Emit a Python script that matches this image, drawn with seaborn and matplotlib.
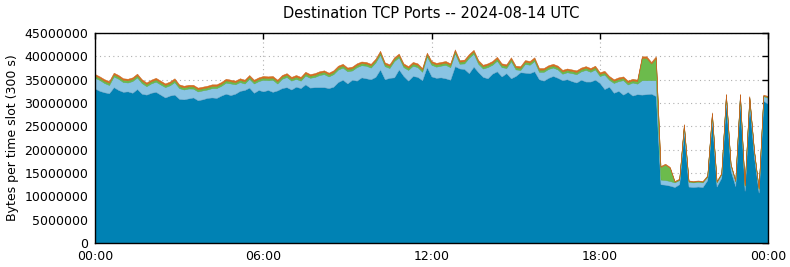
import numpy as np
import pandas as pd
import matplotlib
matplotlib.use("Agg")
import matplotlib.pyplot as plt
import seaborn as sns
from matplotlib.ticker import FuncFormatter

# 10-minute slots, 00:00 .. 24:00 (values in millions of bytes per 300 s slot)
total_top = [
    36.2, 35.7, 35.1, 34.7, 36.5, 36.0, 35.3, 35.2, 35.5, 36.3, 35.1, 34.4,
    35.0, 35.4, 34.8, 34.2, 34.6, 35.3, 34.0, 33.7, 33.9, 33.9, 33.3, 33.5,
    33.7, 34.0, 34.0, 34.5, 35.2, 35.0, 34.8, 35.3, 35.0, 36.0, 35.0, 35.5,
    35.8, 35.7, 35.8, 35.0, 36.0, 36.4, 35.6, 36.0, 35.6, 36.7, 36.2, 36.4,
    36.8, 37.0, 36.5, 37.0, 38.0, 38.4, 37.6, 37.8, 38.5, 38.9, 38.8, 38.4,
    39.5, 41.2, 38.7, 38.3, 39.8, 40.6, 38.5, 37.9, 38.8, 38.5, 37.5, 40.8,
    39.0, 38.6, 38.8, 39.0, 38.5, 41.5, 39.2, 39.3, 40.5, 41.4, 39.2, 38.2,
    38.5, 39.0, 39.9, 38.5, 38.3, 39.8, 38.0, 37.9, 39.2, 39.0, 39.8, 37.5,
    37.5, 38.1, 38.4, 38.0, 37.1, 37.4, 37.2, 37.0, 37.6, 37.9, 37.5, 38.0,
    36.6, 36.9, 35.8, 35.1, 35.5, 35.7, 34.8, 35.2, 35.0, 40.0, 40.0, 38.8,
    40.0, 16.5, 17.0, 16.3, 13.3, 13.8, 25.5, 13.4, 13.3, 13.4, 13.3, 14.5,
    28.0, 13.3, 15.0, 32.0, 17.0, 13.5, 32.0, 12.5, 31.5, 20.0, 11.8, 31.8,
    31.5,
]

base_port = [
    33.1, 32.6, 32.3, 32.1, 33.4, 32.8, 32.4, 32.5, 32.2, 33.0, 32.0, 31.8,
    32.2, 32.4, 31.8, 31.2, 31.6, 31.8, 30.9, 30.8, 31.0, 31.2, 30.6, 30.8,
    31.1, 31.2, 31.1, 31.6, 32.0, 31.7, 32.0, 32.6, 32.8, 33.3, 32.2, 32.8,
    32.5, 32.8, 32.4, 32.7, 33.2, 33.4, 32.9, 33.5, 33.2, 34.0, 33.3, 33.4,
    33.4, 33.4, 33.2, 33.5, 34.5, 35.0, 34.2, 35.0, 34.8, 35.5, 35.3, 35.1,
    35.6, 37.2, 35.1, 35.4, 35.5, 37.2, 35.8, 34.8, 35.8, 35.6, 34.9, 37.7,
    35.7, 35.4, 35.5, 35.3, 35.0, 37.9, 37.4, 37.3, 36.4, 37.8, 36.6, 35.6,
    35.3, 36.3, 36.8, 35.7, 36.4, 35.3, 35.8, 36.6, 36.5, 36.4, 36.8, 35.1,
    34.8, 35.4, 35.8, 35.4, 34.9, 35.1, 34.7, 34.4, 35.0, 34.6, 34.6, 35.0,
    34.3, 33.0, 33.5, 32.2, 32.6, 31.8, 32.4, 31.6, 31.9, 31.8, 31.9, 32.0,
    31.5, 12.6, 12.5, 12.3, 12.0, 12.6, 24.0, 12.1, 12.0, 12.1, 12.0, 13.5,
    26.5, 12.1, 14.0, 30.5, 15.5, 12.2, 30.8, 11.2, 30.0, 18.5, 10.8, 30.5,
    29.8,
]

green_port = [
    0.45, 0.42, 0.45, 0.48, 0.45, 0.44, 0.46, 0.45, 0.43, 0.45, 0.47, 0.45,
    0.44, 0.45, 0.46, 0.44, 0.45, 0.47, 0.43, 0.45, 0.44, 0.46, 0.45, 0.44,
    0.45, 0.46, 0.44, 0.45, 0.47, 0.45, 0.44, 0.45, 0.46, 0.45, 0.44, 0.45,
    0.46, 0.45, 0.44, 0.47, 0.45, 0.46, 0.44, 0.45, 0.45, 0.46, 0.44, 0.45,
    0.45, 0.46, 0.44, 0.45, 0.47, 0.45, 0.44, 0.46, 0.45, 0.45, 0.44, 0.46,
    0.45, 0.47, 0.44, 0.45, 0.46, 0.45, 0.44, 0.45, 0.46, 0.45, 0.44, 0.47,
    0.45, 0.46, 0.44, 0.45, 0.45, 0.47, 0.44, 0.45, 0.46, 0.45, 0.44, 0.46,
    0.45, 0.44, 0.46, 0.45, 0.45, 0.47, 0.44, 0.45, 0.46, 0.45, 0.44, 0.45,
    0.46, 0.45, 0.44, 0.45, 0.47, 0.45, 0.44, 0.46, 0.45, 0.45, 0.44, 0.46,
    0.45, 0.44, 0.46, 0.45, 0.45, 0.44, 0.46, 0.45, 0.50, 4.75, 4.75, 3.55,
    4.75, 2.70, 3.30, 2.80, 0.15, 0.15, 0.15, 0.15, 0.15, 0.15, 0.15, 0.15,
    0.15, 0.15, 0.15, 0.15, 0.15, 0.15, 0.15, 0.15, 0.15, 0.15, 0.15, 0.15,
    0.15,
]

orange_port = [
    0.35, 0.34, 0.36, 0.35, 0.35, 0.36, 0.34, 0.35, 0.35, 0.36, 0.35, 0.34,
    0.35, 0.36, 0.35, 0.34, 0.35, 0.35, 0.36, 0.35, 0.34, 0.35, 0.36, 0.35,
    0.35, 0.34, 0.35, 0.36, 0.35, 0.35, 0.34, 0.36, 0.35, 0.35, 0.36, 0.34,
    0.35, 0.35, 0.36, 0.35, 0.34, 0.35, 0.35, 0.36, 0.35, 0.34, 0.35, 0.36,
    0.35, 0.34, 0.35, 0.36, 0.35, 0.35, 0.34, 0.36, 0.35, 0.35, 0.36, 0.34,
    0.35, 0.36, 0.35, 0.34, 0.35, 0.35, 0.36, 0.35, 0.34, 0.35, 0.36, 0.35,
    0.35, 0.34, 0.35, 0.36, 0.35, 0.35, 0.34, 0.36, 0.35, 0.35, 0.36, 0.34,
    0.35, 0.35, 0.36, 0.35, 0.34, 0.35, 0.35, 0.36, 0.35, 0.34, 0.35, 0.36,
    0.35, 0.34, 0.35, 0.36, 0.35, 0.35, 0.34, 0.36, 0.35, 0.35, 0.36, 0.34,
    0.35, 0.36, 0.35, 0.34, 0.35, 0.35, 0.36, 0.35, 0.34, 0.35, 0.36, 0.35,
    0.35, 0.20, 0.20, 0.20, 0.15, 0.15, 0.20, 0.15, 0.15, 0.15, 0.15, 0.15,
    0.20, 0.15, 0.15, 0.20, 0.15, 0.15, 0.20, 0.15, 0.20, 0.15, 0.15, 0.20,
    0.20,
]

x_tick_hours = [0, 6, 12, 18, 24]
x_tick_labels = ["00:00", "06:00", "12:00", "18:00", "00:00"]
y_ticks = [0, 5000000, 10000000, 15000000, 20000000, 25000000,
           30000000, 35000000, 40000000, 45000000]

title = "Destination TCP Ports -- 2024-08-14 UTC"
ylabel = "Bytes per time slot (300 s)"

# ---- build table ----
hours = np.arange(len(total_top)) * 10 / 60.0
scale = 1e6
base = np.array(base_port) * scale
green = np.array(green_port) * scale
orange = np.array(orange_port) * scale
light = np.array(total_top) * scale - base - green - orange
df = pd.DataFrame({"hour": hours, "base": base, "light": light,
                   "green": green, "orange": orange})

sns.set_theme(style="white")
plt.rcParams["font.family"] = ["DejaVu Sans"]

fig = plt.figure(figsize=(7.9, 2.67), dpi=100)
ax = fig.add_axes([95 / 790, 24 / 267, (768 - 95) / 790, (243 - 33) / 267])

fills = ["#0082b4", "#8ac4e3", "#6cbb4c", "#d96f1e"]
edges = ["#0b6f98", "#78b4d6", "#5aa83d", "#c4621c"]
widths = [0.6, 0.4, 0.3, 0.3]
polys = ax.stackplot(df["hour"], df["base"], df["light"], df["green"], df["orange"],
                     colors=fills)
for p, e, w in zip(polys, edges, widths):
    p.set_edgecolor(e)
    p.set_linewidth(w)

ax.set_xlim(0, 24)
ax.set_ylim(0, 45000000)
ax.set_xticks(x_tick_hours)
ax.set_xticklabels(x_tick_labels)
ax.set_yticks(y_ticks)
ax.yaxis.set_major_formatter(FuncFormatter(lambda v, p: f"{int(v)}"))
ax.set_axisbelow(True)
ax.grid(True, linestyle=(0, (1, 3)), color="#b0b0b0", linewidth=0.8)
for s in ax.spines.values():
    s.set_visible(True)
    s.set_color("black")
    s.set_linewidth(1.0)
    s.set_zorder(5)
ax.tick_params(direction="in", top=True, right=True, length=4, width=1,
               labelsize=9, colors="black", pad=5)
ax.set_title(title, fontsize=10.5, pad=11, color="black")
ax.set_ylabel(ylabel, fontsize=9, color="black", labelpad=4)

fig.savefig("out.png", dpi=100)
